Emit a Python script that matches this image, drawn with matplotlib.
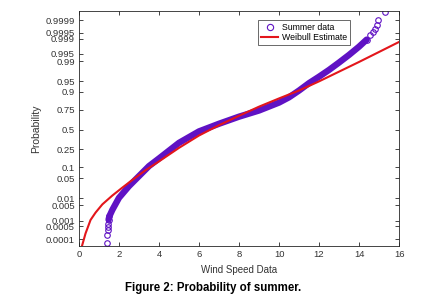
import matplotlib
matplotlib.use("Agg")
import matplotlib.pyplot as plt
from matplotlib.lines import Line2D
import numpy as np
from statistics import NormalDist

# probability ticks shown on the normal-probability axis
prob_ticks = [0.0001, 0.0005, 0.001, 0.005, 0.01, 0.05, 0.1, 0.25, 0.5,
              0.75, 0.9, 0.95, 0.99, 0.995, 0.999, 0.9995, 0.9999]
prob_labels = ['0.0001', '0.0005', '0.001', '0.005', '0.01', '0.05', '0.1',
               '0.25', '0.5', '0.75', '0.9', '0.95', '0.99', '0.995',
               '0.999', '0.9995', '0.9999']
x_ticks = [0, 2, 4, 6, 8, 10, 12, 14, 16]

summer_speed = [1.42, 1.42, 1.43, 1.45, 1.46, 1.48, 1.52, 1.67, 2.0, 2.5,
                3.0, 3.5, 4.0, 5.0, 6.0, 7.0, 8.0, 9.0, 10.0, 10.5, 11.0,
                11.5, 12.0, 12.5, 13.0, 13.5, 14.0, 14.38, 14.55, 14.7,
                14.8, 14.88, 14.97, 15.3]
summer_prob = [0.000057, 0.00017, 0.00032, 0.00048, 0.00071, 0.0011,
               0.0016, 0.0032, 0.0102, 0.0274, 0.0571, 0.1075, 0.1635,
               0.3264, 0.476, 0.579, 0.670, 0.742, 0.821, 0.864, 0.908,
               0.943, 0.964, 0.9788, 0.9887, 0.99446, 0.9976, 0.99889,
               0.99934, 0.99955, 0.99969, 0.99981, 0.9999, 0.99997]

# weibull estimate
weib_speed = [0.15, 0.33, 0.58, 0.83, 1.17, 1.67, 2.17, 2.67, 3.33, 4.0,
              5.0, 6.0, 7.0, 8.0, 9.0, 10.0, 11.0, 12.0, 13.0, 14.0,
              15.0, 16.0]
weib_prob = [0.0000375, 0.00021, 0.00107, 0.0024, 0.00554, 0.01255, 0.0244,
             0.0436, 0.0838, 0.140, 0.2676, 0.4207, 0.5596, 0.6808, 0.7823,
             0.8554, 0.9082, 0.9495, 0.9756, 0.98928, 0.99585, 0.99856]

nd = NormalDist()
def zq(p):
    return np.array([nd.inv_cdf(v) for v in p])

plt.rcParams['font.family'] = ['Liberation Sans', 'DejaVu Sans']
purple = '#5f12c4'
red = '#e3161b'
axcol = '#262626'

fig = plt.figure(figsize=(4.41, 2.98), dpi=100)
ax = fig.add_axes([0.179, 0.174, 0.726, 0.789])

sz = zq(summer_prob)
sx = np.array(summer_speed)
# dense middle part looks like a solid band of overlapping circles
band = (sx >= 1.48) & (sx <= 14.38)
ax.plot(sx[band], sz[band], '-', color=purple, lw=4.6, solid_capstyle='round')
ends = (sx <= 1.52) | (sx >= 14.38)
ax.plot(sx[ends], sz[ends], 'o', mfc='none', mec=purple, ms=4, mew=0.8)
ax.plot(weib_speed, zq(weib_prob), '-', color=red, lw=1.5)

ax.set_xlim(0, 16)
ax.set_ylim(-3.96, 4.03)
ax.set_xticks(x_ticks)
ax.set_yticks(zq(prob_ticks))
ax.set_yticklabels(prob_labels)
ax.tick_params(direction='in', length=3, width=0.6, labelsize=6.8,
               colors=axcol, labelcolor='#333333', top=True, right=True,
               pad=3)
for s in ax.spines.values():
    s.set_color(axcol)
    s.set_linewidth(0.6)

ax.set_xlabel('Wind Speed Data', fontsize=7, color='#333333', labelpad=4)
ax.set_ylabel('Probability', fontsize=7.5, color='#333333', labelpad=3)

h1 = Line2D([], [], ls='none', marker='o', mfc='none', mec=purple, ms=4.5,
            mew=0.8)
h2 = Line2D([], [], color=red, lw=1.5)
leg = ax.legend([h1, h2], ['Summer data', 'Weibull Estimate'], loc='upper left',
                bbox_to_anchor=(0.56, 0.96), fontsize=6.3, frameon=True,
                fancybox=False, edgecolor=axcol, borderpad=0.3,
                labelspacing=0.15, handlelength=2.0, handletextpad=0.4,
                borderaxespad=0)
leg.get_frame().set_linewidth(0.6)

fig.text(0.483, 0.033, 'Figure 2: Probability of summer.', fontsize=8.3,
         fontweight='bold', ha='center', va='center')

fig.savefig('out.png', dpi=100)
